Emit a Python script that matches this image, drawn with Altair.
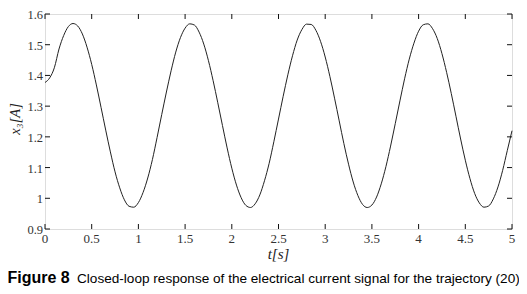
import altair as alt
import numpy as np
import pandas as pd

# time samples [s]
t_values = np.round(np.arange(0, 101) * 0.05, 2).tolist()
# current x3 [A]
x3_values = [
    1.377, 1.392, 1.425, 1.486, 1.530, 1.559, 1.569, 1.561, 1.535, 1.492,
    1.436, 1.369, 1.296, 1.222, 1.151, 1.086, 1.034, 0.995, 0.974, 0.971,
    0.986, 1.019, 1.066, 1.126, 1.198, 1.273, 1.346, 1.415, 1.476, 1.523,
    1.554, 1.568, 1.564, 1.541, 1.502, 1.448, 1.383, 1.311, 1.237, 1.164,
    1.098, 1.043, 1.002, 0.977, 0.970, 0.982, 1.011, 1.057, 1.114, 1.184,
    1.258, 1.332, 1.402, 1.464, 1.515, 1.549, 1.567, 1.566, 1.547, 1.511,
    1.460, 1.397, 1.326, 1.252, 1.178, 1.111, 1.053, 1.009, 0.980, 0.970,
    0.978, 1.004, 1.047, 1.103, 1.170, 1.243, 1.317, 1.389, 1.453, 1.505,
    1.544, 1.565, 1.568, 1.552, 1.520, 1.471, 1.410, 1.341, 1.267, 1.193,
    1.124, 1.064, 1.016, 0.985, 0.971, 0.975, 0.998, 1.037, 1.091, 1.156,
    1.220,
]

x_ticks = [0, 0.5, 1, 1.5, 2, 2.5, 3, 3.5, 4, 4.5, 5]
y_ticks = [0.9, 1.0, 1.1, 1.2, 1.3, 1.4, 1.5, 1.6]
x_title = "t[s]"
y_title = "x\u2083[A]"
caption_bold = "Figure 8"
caption_text = "Closed-loop response of the electrical current signal for the trajectory (20)"

W, H = 467, 215

df = pd.DataFrame({"t": t_values, "x3": x3_values})
xt = pd.DataFrame({"xv": x_ticks})
yt = pd.DataFrame({"yv": y_ticks})

xscale = alt.Scale(domain=[0, 5], nice=False, zero=False)
yscale = alt.Scale(domain=[0.9, 1.6], nice=False, zero=False)

serif = "Liberation Serif"
label_color = "#333333"
tick_color = "#111111"

line = alt.Chart(df).mark_line(color="#222222", strokeWidth=1, interpolate="monotone").encode(
    x=alt.X("t:Q", scale=xscale, axis=None),
    y=alt.Y("x3:Q", scale=yscale, axis=None),
)

bottom_ticks = alt.Chart(xt).mark_rule(color=tick_color, strokeWidth=1).encode(
    x=alt.X("xv:Q", scale=xscale, axis=None), y=alt.value(H), y2=alt.value(H - 5))
top_ticks = alt.Chart(xt).mark_rule(color=tick_color, strokeWidth=1).encode(
    x=alt.X("xv:Q", scale=xscale, axis=None), y=alt.value(0), y2=alt.value(5))
left_ticks = alt.Chart(yt).mark_rule(color=tick_color, strokeWidth=1).encode(
    y=alt.Y("yv:Q", scale=yscale, axis=None), x=alt.value(0), x2=alt.value(5))
right_ticks = alt.Chart(yt).mark_rule(color=tick_color, strokeWidth=1).encode(
    y=alt.Y("yv:Q", scale=yscale, axis=None), x=alt.value(W), x2=alt.value(W - 5))

x_labels = alt.Chart(xt).mark_text(
    font=serif, fontSize=13, color=label_color, align="center", baseline="top").encode(
    x=alt.X("xv:Q", scale=xscale, axis=None), y=alt.value(H + 4),
    text=alt.Text("xv:Q", format="~g"))
y_labels = alt.Chart(yt).mark_text(
    font=serif, fontSize=12.5, color=label_color, align="right", baseline="middle", dy=1).encode(
    y=alt.Y("yv:Q", scale=yscale, axis=None), x=alt.value(-2),
    text=alt.Text("yv:Q", format="~g"))

x_title_mark = alt.Chart(pd.DataFrame({"s": [x_title]})).mark_text(
    font=serif, fontSize=15, fontStyle="italic", color="#222222", align="center",
    baseline="alphabetic").encode(text="s:N", x=alt.value(W / 2), y=alt.value(H + 30))
y_title_mark = alt.Chart(pd.DataFrame({"s": [y_title]})).mark_text(
    font=serif, fontSize=14.5, fontStyle="italic", color="#222222", align="center",
    baseline="middle", angle=270).encode(text="s:N", x=alt.value(-29), y=alt.value(105))

cap1 = alt.Chart(pd.DataFrame({"s": [caption_bold]})).mark_text(
    font="Liberation Sans", fontSize=16, fontWeight="bold", align="left",
    baseline="alphabetic", color="#000000").encode(
    text="s:N", x=alt.value(-37.5), y=alt.value(269))
cap2 = alt.Chart(pd.DataFrame({"s": [caption_text]})).mark_text(
    font="Liberation Sans", fontSize=13.6, align="left",
    baseline="alphabetic", color="#000000").encode(
    text="s:N", x=alt.value(32), y=alt.value(269))

chart = alt.layer(
    line, bottom_ticks, top_ticks, left_ticks, right_ticks,
    x_labels, y_labels, x_title_mark, y_title_mark, cap1, cap2,
).properties(
    width=W, height=H,
    autosize=alt.AutoSizeParams(type="none"),
    padding={"left": 37, "top": 6, "right": 7, "bottom": 57},
).configure_view(stroke="#111111", strokeWidth=1).configure(background="white")

chart.save("out.html", embed_options={"renderer": "svg", "actions": False})
